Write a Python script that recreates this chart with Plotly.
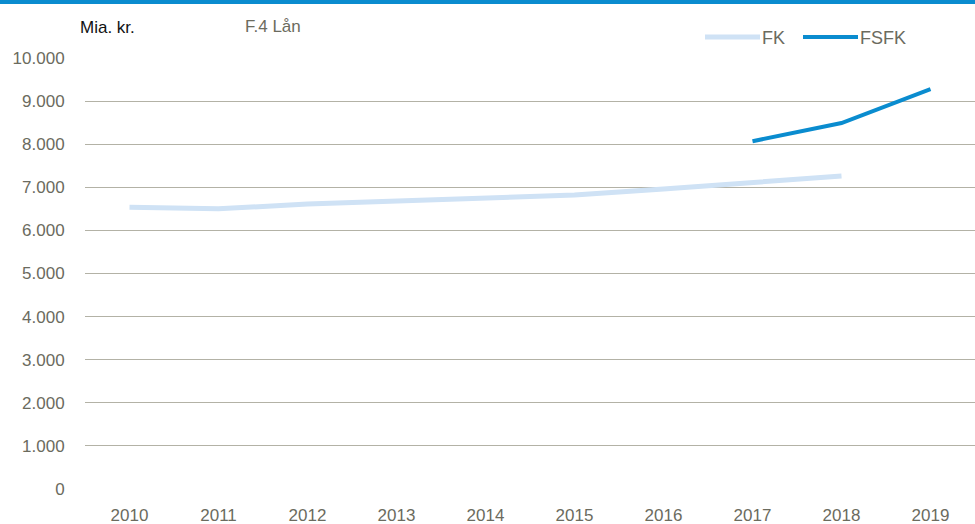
import plotly.graph_objects as go

years = ["2010", "2011", "2012", "2013", "2014", "2015", "2016", "2017", "2018", "2019"]
fk = [6540, 6500, 6610, 6680, 6750, 6820, 6960, 7120, 7260, None]
fsfk = [None, None, None, None, None, None, None, 8070, 8490, 9280]
y_ticks = [0, 1000, 2000, 3000, 4000, 5000, 6000, 7000, 8000, 9000, 10000]
y_labels = ["0", "1.000", "2.000", "3.000", "4.000", "5.000", "6.000", "7.000", "8.000", "9.000", "10.000"]
series_names = ["FK", "FSFK"]
series_colors = ["#cfe2f5", "#0a8ccf"]
series_widths = [5, 4]

FONT = "Liberation Sans Narrow, Arial Narrow, Liberation Sans, Arial"
GRAY = "#6b6b5e"

L, T, W, H = 85, 58, 890, 431


def px(x):
    return (x - L) / W


def py(y):
    return (T + H - y) / H


fig = go.Figure()
for name, vals, col, wd in zip(series_names, [fk, fsfk], series_colors, series_widths):
    fig.add_trace(go.Scatter(x=years, y=vals, name=name, mode="lines",
                             line=dict(color=col, width=wd), connectgaps=False))

shapes = [dict(type="rect", xref="paper", yref="paper", x0=px(0), x1=px(975),
               y0=py(4), y1=py(0), fillcolor="#0a8ccf", line=dict(width=0), layer="above")]
annotations = [
    dict(text="Mia. kr.", xref="paper", yref="paper", x=px(78), y=py(28),
         xanchor="left", yanchor="middle", showarrow=False,
         font=dict(family=FONT, size=17, color="#111111")),
    dict(text="F.4 Lån", xref="paper", yref="paper", x=px(243), y=py(27),
         xanchor="left", yanchor="middle", showarrow=False,
         font=dict(family=FONT, size=17, color=GRAY)),
]
legend_pos = [(705, 760), (803, 858)]
for (x0, x1), name, col, wd in zip(legend_pos, series_names, series_colors, series_widths):
    shapes.append(dict(type="line", xref="paper", yref="paper", x0=px(x0), x1=px(x1),
                       y0=py(37), y1=py(37), line=dict(color=col, width=wd)))
    annotations.append(dict(text=name, xref="paper", yref="paper", x=px(x1), y=py(38),
                            xanchor="left", yanchor="middle", showarrow=False,
                            font=dict(family=FONT, size=18, color=GRAY)))

fig.update_layout(
    width=975, height=524,
    margin=dict(l=L, r=975 - L - W, t=T, b=524 - T - H),
    paper_bgcolor="white", plot_bgcolor="white",
    font=dict(family=FONT, size=17, color=GRAY),
    showlegend=False,
    xaxis=dict(range=[-0.5, 9.5], showgrid=False, showline=False, zeroline=False,
               ticks="outside", ticklen=11, tickcolor="rgba(0,0,0,0)",
               tickfont=dict(family=FONT, size=17, color=GRAY)),
    yaxis=dict(range=[0, 10000], tickvals=y_ticks, ticktext=y_labels,
               showgrid=True, gridcolor="#b3b2a6", gridwidth=1.3, zeroline=False,
               showline=False, ticks="outside", ticklen=16, tickcolor="rgba(0,0,0,0)",
               tickfont=dict(family=FONT, size=17, color=GRAY)),
    shapes=shapes,
    annotations=annotations,
)

fig.write_html("out.html", config={"displayModeBar": False},
               post_script="document.body.style.margin='0';document.body.style.overflow='hidden';")
